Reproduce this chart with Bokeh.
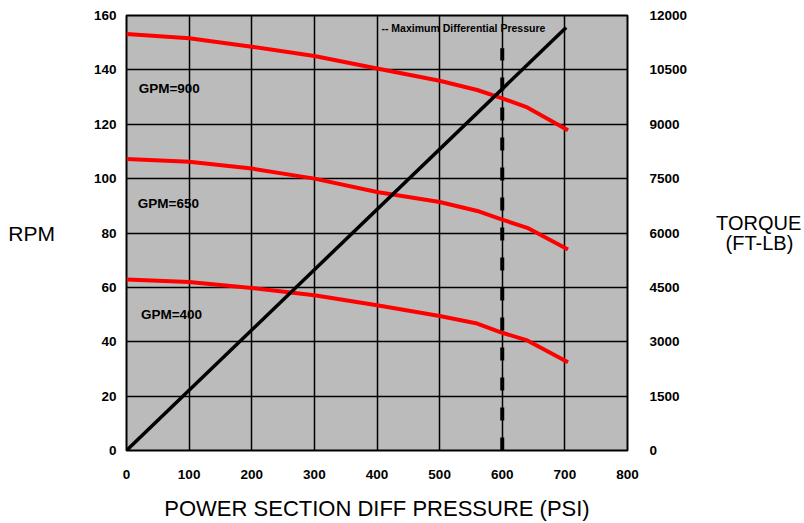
from bokeh.plotting import figure
from bokeh.models import LinearAxis, Range1d, FixedTicker, Label
from bokeh.embed import file_html
from bokeh.resources import INLINE

# ---- data ----
pressure = [0, 100, 200, 300, 400, 500, 560, 600, 640, 705]
rpm_gpm900 = [153.2, 151.6, 148.5, 145.1, 140.5, 136.0, 132.6, 129.5, 126.2, 117.8]
rpm_gpm650 = [107.2, 106.2, 103.7, 100.0, 95.1, 91.4, 88.1, 84.9, 81.9, 73.9]
rpm_gpm400 = [62.9, 62.0, 59.8, 57.1, 53.4, 49.5, 46.7, 43.3, 40.5, 32.5]

torque_psi = [0, 702]
torque_ftlb = [0, 11670]

max_dp_psi = [600, 600]
max_dp_rpm = [0, 148]

x_ticks = [0, 100, 200, 300, 400, 500, 600, 700, 800]
rpm_ticks = [0, 20, 40, 60, 80, 100, 120, 140, 160]
torque_ticks = [0, 1500, 3000, 4500, 6000, 7500, 9000, 10500, 12000]

gpm_labels = ["GPM=900", "GPM=650", "GPM=400"]
gpm_label_x = [19.5, 18, 23]
gpm_label_y = [133, 90.7, 50]

FONT = "Liberation Sans"

p = figure(width=804, height=523, x_range=Range1d(0, 800), y_range=Range1d(0, 160),
           output_backend="svg", toolbar_location=None,
           min_border_left=126, min_border_right=173, min_border_top=15, min_border_bottom=73)
p.extra_y_ranges = {"torque": Range1d(0, 12000)}
p.add_layout(LinearAxis(y_range_name="torque"), "right")

p.background_fill_color = "#bbbbbb"
p.border_fill_color = "white"
p.outline_line_color = "black"
p.outline_line_width = 2
p.outline_line_alpha = 1

p.xaxis.ticker = FixedTicker(ticks=x_ticks)
p.yaxis[0].ticker = FixedTicker(ticks=rpm_ticks)
p.yaxis[1].ticker = FixedTicker(ticks=torque_ticks)

for ax in p.xaxis + p.yaxis:
    ax.axis_line_color = None
    ax.major_tick_line_color = None
    ax.minor_tick_line_color = None
    ax.major_tick_in = 0
    ax.major_tick_out = 0
    ax.minor_tick_in = 0
    ax.minor_tick_out = 0
    ax.major_label_text_font = FONT
    ax.major_label_text_font_style = "bold"
    ax.major_label_text_font_size = "13.5px"
    ax.major_label_text_color = "black"
    ax.axis_label_text_font = FONT
    ax.axis_label_text_font_style = "normal"
    ax.axis_label_text_color = "black"

p.xaxis.major_label_standoff = 19
p.yaxis[0].major_label_standoff = 10
p.yaxis[1].major_label_standoff = 22

# axis titles
p.xaxis.axis_label = "POWER SECTION DIFF PRESSURE (PSI)"
p.xaxis.axis_label_text_font_size = "22px"
p.xaxis.axis_label_standoff = 14

p.yaxis[0].axis_label = "RPM"
p.yaxis[0].axis_label_text_font_size = "21px"
p.yaxis[0].axis_label_orientation = "horizontal"
p.yaxis[0].axis_label_standoff = 36

p.yaxis[1].axis_label = "TORQUE\n\u00a0\u2009(FT-LB)"
p.yaxis[1].axis_label_text_font_size = "20px"
p.yaxis[1].axis_label_orientation = "horizontal"
p.yaxis[1].axis_label_standoff = 26
p.yaxis[1].axis_label_text_line_height = 0.95

for g in (p.xgrid, p.ygrid):
    g.grid_line_color = "black"
    g.grid_line_width = 1.5
    g.grid_line_alpha = 1

# curves
for ys in (rpm_gpm900, rpm_gpm650, rpm_gpm400):
    p.line(pressure, ys, line_color="#ff0000", line_width=4)

p.line(torque_psi, torque_ftlb, y_range_name="torque", line_color="black", line_width=3.5)
p.line(max_dp_psi, max_dp_rpm, line_color="black", line_width=4, line_dash="13 17")

for t, x, y in zip(gpm_labels, gpm_label_x, gpm_label_y):
    p.add_layout(Label(x=x, y=y, text=t, text_font=FONT, text_font_size="13.5px",
                       text_font_style="bold", text_baseline="middle", text_align="left",
                       text_color="black"))

p.add_layout(Label(x=407, y=155.5, text="-- Maximum Differential Pressure", text_font=FONT,
                   text_font_size="10.5px", text_font_style="bold",
                   text_baseline="middle", text_align="left", text_color="black"))

open("out.html", "w").write(file_html(p, INLINE))
